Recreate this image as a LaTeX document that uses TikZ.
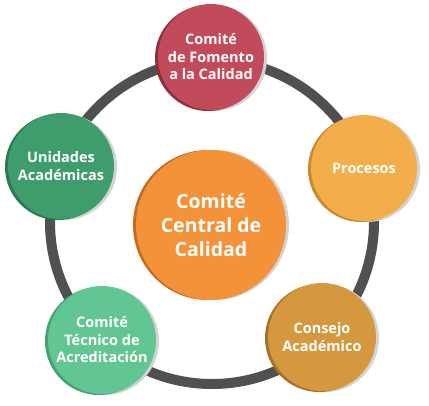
\documentclass[tikz,border=0pt]{standalone}
\usepackage{fontspec}
\setmainfont{Open Sans}
\usetikzlibrary{calc}
\definecolor{ringc}{HTML}{505050}
\definecolor{shadowc}{HTML}{D3D3D3}
\definecolor{roseM}{HTML}{C14A5B}\definecolor{roseD}{HTML}{8E2F3E}
\definecolor{yelM}{HTML}{F3AE4B}\definecolor{yelD}{HTML}{C98A2F}
\definecolor{ochM}{HTML}{D5983F}\definecolor{ochD}{HTML}{A6722A}
\definecolor{mintM}{HTML}{62C594}\definecolor{mintD}{HTML}{45A072}
\definecolor{grnM}{HTML}{3F9D6D}\definecolor{grnD}{HTML}{2C7A51}
\definecolor{orM}{HTML}{F4923A}\definecolor{orD}{HTML}{C46D22}
\tikzset{
  ringline/.style={draw=ringc, line width=10pt},
  bubble/.style={circle, inner sep=0pt, text=white, align=center,
    font=\bfseries\fontsize{14.5}{17.5}\selectfont},
}
% #1 name, #2 x, #3 y, #4 radius, #5 main, #6 dark, #7 text
\newcommand\mybubble[7]{%
  \fill[shadowc] (#2+3,#3+1) circle[radius=#4];
  \fill[#6] (#2-3,#3+1) circle[radius=#4];
  \node[bubble, fill=#5, minimum size=2*#4pt] (#1) at (#2,#3) {#7};
}
\begin{document}
\begin{tikzpicture}[x=1pt,y=-1pt]
\useasboundingbox (0,0) rectangle (429,405);
\fill[white] (0,0) rectangle (429,405);
\coordinate (o) at (212,222);
\draw[ringline] (o) circle[radius=162];
\mybubble{fomento}{211}{57}{53}{roseM}{roseD}{Comité\\de Fomento\\a la Calidad}
\mybubble{procesos}{364}{168}{53}{yelM}{yelD}{Procesos}
\mybubble{consejo}{322}{337}{54}{ochM}{ochD}{Consejo\\Académico}
\mybubble{tecnico}{102}{340}{54}{mintM}{mintD}{Comité\\Técnico de\\Acreditación}
\mybubble{unidades}{61}{166}{53}{grnM}{grnD}{Unidades\\Académicas}
\fill[shadowc] (214,225) circle[radius=75];
\fill[orD] (208,225) circle[radius=75];
\node[bubble, fill=orM, minimum size=150pt, font=\bfseries\fontsize{19.5}{24}\selectfont] (central) at (211,225) {Comité\\Central de\\Calidad};
\end{tikzpicture}
\end{document}
